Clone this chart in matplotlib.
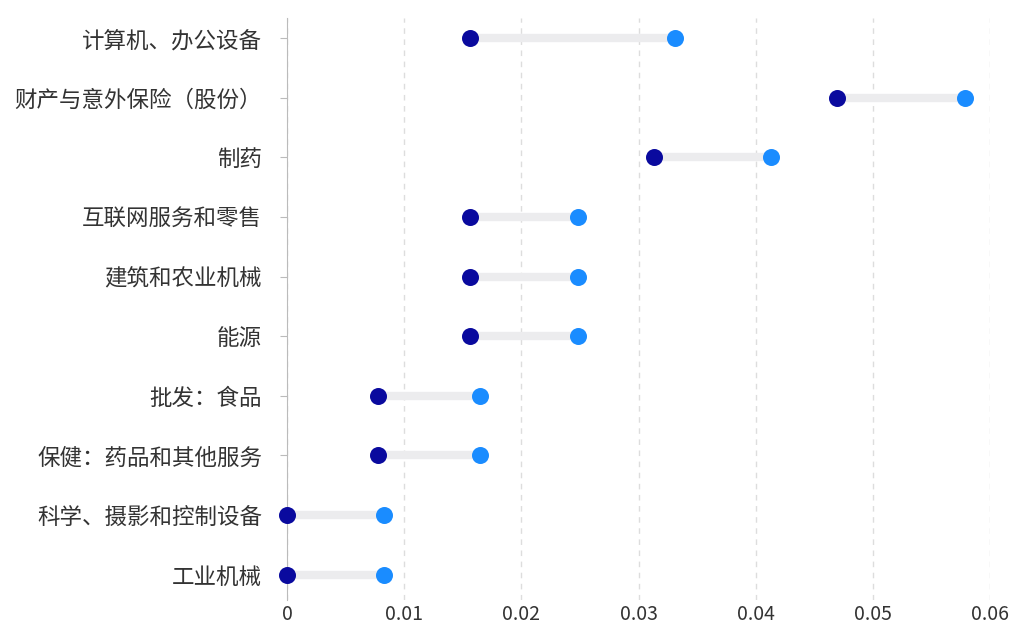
import numpy as np
import matplotlib
matplotlib.use("Agg")
import matplotlib.pyplot as plt

plt.rcParams['font.family'] = ['Noto Sans CJK SC', 'DejaVu Sans']

categories = ['计算机、办公设备', '财产与意外保险（股份）', '制药', '互联网服务和零售',
              '建筑和农业机械', '能源', '批发：食品', '保健：药品和其他服务',
              '科学、摄影和控制设备', '工业机械']
low = [0.0156, 0.0469, 0.0313, 0.0156, 0.0156, 0.0156, 0.0078, 0.0078, 0.0, 0.0]
high = [0.0331, 0.0579, 0.0413, 0.0248, 0.0248, 0.0248, 0.0165, 0.0165, 0.0083, 0.0083]

fig = plt.figure(figsize=(10.16, 6.28), dpi=100)
ax = fig.add_axes([0.2825, 0.045, 0.692, 0.926])
y = np.arange(len(categories))

ax.hlines(y, low, high, color='#ececee', lw=6, zorder=1)
ax.scatter(low, y, s=150, color='#0a0a9e', zorder=3, linewidths=0, clip_on=False)
ax.scatter(high, y, s=150, color='#1a8cff', zorder=3, linewidths=0, clip_on=False)

ax.set_xlim(0, 0.06)
ax.set_ylim(9.42, -0.335)
ax.set_yticks(y)
ax.set_yticklabels(categories, fontsize=16.2, color='#333333')
ax.set_xticks(np.arange(0, 0.061, 0.01))
ax.set_xticklabels(['0', '0.01', '0.02', '0.03', '0.04', '0.05', '0.06'],
                   fontsize=14, color='#333333')
ax.xaxis.grid(True, ls=(0, (4, 4)), color='#dddddd', lw=1)
ax.set_axisbelow(True)
for side in ['top', 'right', 'bottom']:
    ax.spines[side].set_visible(False)
ax.spines['left'].set_color('#bbbbbb')
ax.tick_params(axis='y', length=5, color='#bbbbbb', pad=13)
ax.tick_params(axis='x', length=0, pad=3)

fig.savefig('out.png', dpi=100)
